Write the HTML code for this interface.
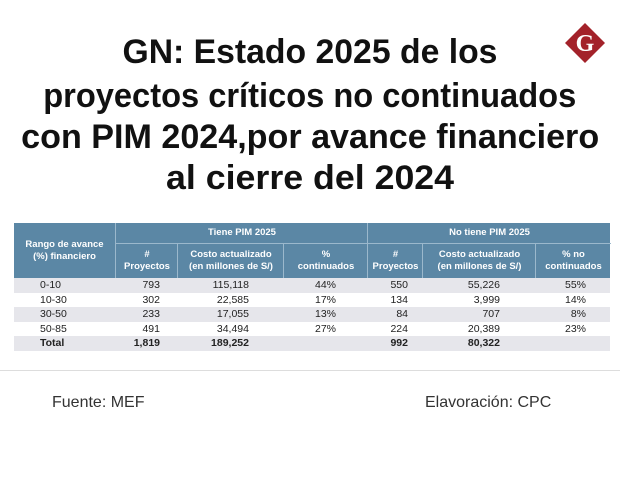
<!DOCTYPE html>
<html><head><meta charset="utf-8">
<style>
body{margin:0;width:620px;height:490px;background:#fff;position:relative;overflow:hidden;font-family:"Liberation Sans",sans-serif;}
.t{position:absolute;left:0;width:620px;text-align:center;font-family:"Liberation Sans Narrow","Liberation Sans",sans-serif;font-weight:bold;font-size:34px;line-height:40px;color:#111;white-space:nowrap;}
.t span{display:inline-block;transform-origin:center center;}
#tbl{position:absolute;left:14px;top:223px;width:596px;}
.c{position:absolute;font-size:10.5px;color:#222;white-space:nowrap;}
.h{position:absolute;color:#fff;font-weight:bold;font-size:9.5px;text-align:center;display:flex;align-items:center;justify-content:center;line-height:12px;}
.foot{position:absolute;font-size:16px;color:#333;top:394px;}
</style></head><body>
<div class="t" style="top:32px"><span data-w="375">GN: Estado 2025 de los</span></div>
<div class="t" style="top:76px"><span data-w="533">proyectos críticos no continuados</span></div>
<div class="t" style="top:117px"><span data-w="578">con PIM 2024,por avance financiero</span></div>
<div class="t" style="top:158px"><span data-w="288">al cierre del 2024</span></div>

<svg style="position:absolute;left:564px;top:22px" width="42" height="42" viewBox="0 0 42 42">
<polygon points="21,1 41,21 21,41 1,21" fill="#a3222a"/>
<text x="21" y="29" text-anchor="middle" font-family="Liberation Serif,serif" font-weight="bold" font-size="24" fill="#fff">G</text></svg>

<div id="tbl"></div>
<div style="position:absolute;left:0;top:370px;width:620px;height:1px;background:#ddd"></div>
<div class="foot" style="left:52px">Fuente: MEF</div>
<div class="foot" style="left:425px">Elavoración: CPC</div>

<script>
const ranges=["0-10","10-30","30-50","50-85","Total"];
const pimProj=["793","302","233","491","1,819"];
const pimCost=["115,118","22,585","17,055","34,494","189,252"];
const pimPct=["44%","17%","13%","27%",""];
const noProj=["550","134","84","224","992"];
const noCost=["55,226","3,999","707","20,389","80,322"];
const noPct=["55%","14%","8%","23%",""];

document.querySelectorAll('.t span').forEach(s=>{const w=s.getBoundingClientRect().width;s.style.transform='scaleX('+(s.dataset.w/w)+')';});

const T=document.getElementById('tbl');
function add(cls,x,y,w,h,txt,name,extra){const d=document.createElement('div');d.className=cls;d.style.left=x+'px';d.style.top=y+'px';d.style.width=w+'px';d.style.height=h+'px';d.innerHTML=txt;if(extra)Object.assign(d.style,extra);


T.appendChild(d);return d;}
add('h',0,0,596,55,'','header-background',{background:'#5b87a5'});
add('h',0,0,101,55,'Rango de avance<br>(%) financiero','header-range');
add('h',101,0,252,20,'Tiene PIM 2025','header-tiene-pim',{borderLeft:'1px solid #9bb8cc',borderBottom:'1px solid #9bb8cc'});
add('h',353,0,243,20,'No tiene PIM 2025','header-no-tiene-pim',{borderLeft:'1px solid #9bb8cc',borderBottom:'1px solid #9bb8cc'});
const cols=[[101,62],[163,106],[269,84],[353,55],[408,113],[521,75]];
const heads=['#<br>Proyectos','Costo actualizado<br>(en millones de S/)','%<br>continuados','#<br>Proyectos','Costo actualizado<br>(en millones de S/)','% no<br>continuados'];
cols.forEach((c,i)=>add('h',c[0],21,c[1],34,heads[i],'subheader-'+i,{borderLeft:'1px solid #9bb8cc'}));
const rowH=14.6, y0=55;
const series=[pimProj,pimCost,pimPct,noProj,noCost,noPct];
const rightEdge=[146,235,322,394,486,572];
ranges.forEach((r,i)=>{
  const y=y0+i*rowH;
  if(i%2===0) add('c',0,y,596,rowH,'','row-stripe-'+i,{background:'#e6e6eb'});
  const b=i===4?{fontWeight:'bold'}:{};
  add('c',26,y+1,60,rowH,r,'range-'+r,b);
  series.forEach((s,j)=>{add('c',rightEdge[j]-60,y+1,60,rowH,s[i],'cell-'+i+'-'+j,Object.assign({textAlign:'right'},b));});
});
</script>
</body></html>
